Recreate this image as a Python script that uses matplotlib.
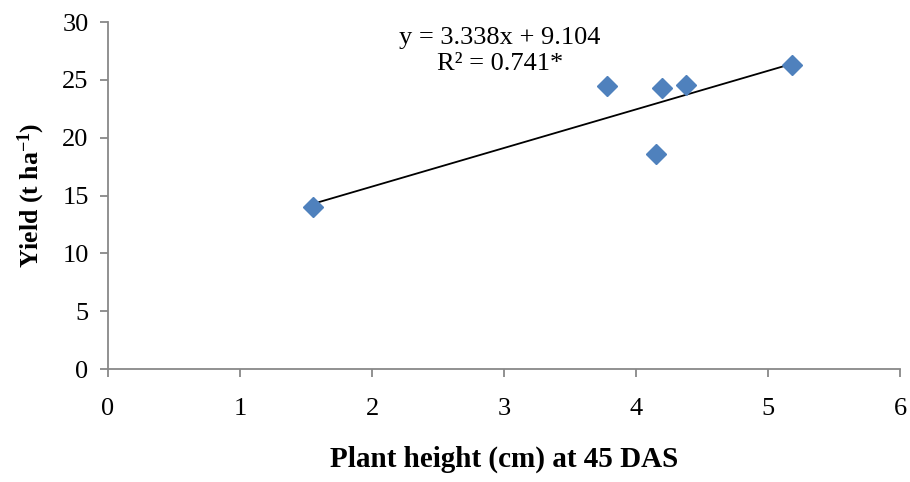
import numpy as np
import matplotlib
matplotlib.use("Agg")
import matplotlib.pyplot as plt

# plant height (cm) at 45 DAS vs yield (t/ha)
height = [1.55, 3.78, 4.15, 4.20, 4.38, 5.18]
yield_t = [14.0, 24.5, 18.6, 24.3, 24.6, 26.3]
slope = 3.338
intercept = 9.104

plt.rcParams['font.family'] = ['Liberation Serif', 'DejaVu Serif']
plt.rcParams['mathtext.fontset'] = 'custom'
plt.rcParams['mathtext.rm'] = 'Liberation Serif:bold'
plt.rcParams['mathtext.default'] = 'rm'

fig = plt.figure(figsize=(9.1, 4.82), dpi=100)
ax = fig.add_axes([0.1187, 0.2344, 0.8703, 0.7196])

# trend line over the data range
xs = np.array([min(height), max(height)])
ax.plot(xs, slope * xs + intercept, color='black', lw=1.3, zorder=2)
ax.plot(height, yield_t, linestyle='none', marker='D', ms=10.5,
        color='#4F81BD', mec='#4F81BD', zorder=3)

ax.text(2.97, 28.6, 'y = 3.338x + 9.104', ha='center', va='center', fontsize=19)
ax.text(2.97, 26.4, 'R² = 0.741*', ha='center', va='center', fontsize=19)

ax.set_xlim(0, 6)
ax.set_ylim(0, 30)
ax.set_xticks(range(0, 7))
ax.set_yticks(range(0, 31, 5))

for side in ['top', 'right']:
    ax.spines[side].set_visible(False)
for side in ['left', 'bottom']:
    ax.spines[side].set_color('#888888')
    ax.spines[side].set_linewidth(1.3)
ax.tick_params(axis='both', colors='#888888', labelcolor='black',
               labelsize=19, length=6, width=1.3, direction='out')
ax.tick_params(axis='x', pad=15)
ax.tick_params(axis='y', pad=8)

ax.set_xlabel('Plant height (cm) at 45 DAS', fontsize=21, fontweight='bold', labelpad=18)
ax.set_ylabel('Yield (t ha$^{-1}$)', fontsize=18.5, fontweight='bold', labelpad=11)

fig.savefig('out.png', dpi=100)
